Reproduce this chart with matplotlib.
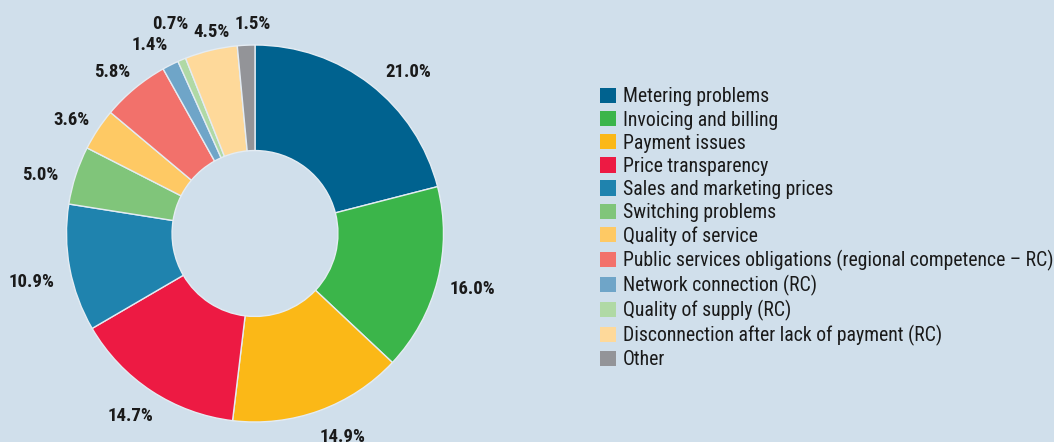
import matplotlib
matplotlib.use("Agg")
import matplotlib.pyplot as plt
from matplotlib.patches import Patch
from matplotlib import font_manager as fm

categories = [
    "Metering problems",
    "Invoicing and billing",
    "Payment issues",
    "Price transparency",
    "Sales and marketing prices",
    "Switching problems",
    "Quality of service",
    "Public services obligations (regional competence \u2013 RC)",
    "Network connection (RC)",
    "Quality of supply (RC)",
    "Disconnection after lack of payment (RC)",
    "Other",
]
values = [21.0, 16.0, 14.9, 14.7, 10.9, 5.0, 3.6, 5.8, 1.4, 0.7, 4.5, 1.5]
colors = ["#00628f", "#3bb54a", "#fbb817", "#ed1a43", "#1f83ae", "#80c57a",
          "#fec964", "#f2716b", "#6fa5c8", "#b0d9a5", "#fed99a", "#939498"]
label_pos = [(0.812, 0.857), (1.151, -0.294), (0.467, -1.080), (-0.658, -0.968),
             (-1.183, -0.257), (-1.141, 0.310), (-0.971, 0.602), (-0.759, 0.857),
             (-0.557, 1.0), (-0.451, 1.111), (-0.228, 1.069), (-0.011, 1.111)]

BG = "#d0dfeb"
TXT = "#1a1a1a"
W, H = 1054, 442
FAMILY = ["Roboto Condensed", "PT Sans Narrow", "DejaVu Sans"]
fig = plt.figure(figsize=(W / 100, H / 100), dpi=100, facecolor=BG)
renderer = fig.canvas.get_renderer()


def text_size(s, fp):
    t = fig.text(0, 0, s, fontproperties=fp)
    bb = t.get_window_extent(renderer)
    t.remove()
    return bb.width, bb.height


def fit_font(s, target_w, **kw):
    fp = fm.FontProperties(family=FAMILY, stretch="condensed", size=10, **kw)
    w, _ = text_size(s, fp)
    fp.set_size(10 * target_w / w)
    return fp


R = 188.5
cx, cy = 255, H - 233.5
s = 1.4
half = R * s
ax = fig.add_axes([(cx - half) / W, (cy - half) / H, 2 * half / W, 2 * half / H])
ax.patch.set_alpha(0)
ax.pie(values, colors=colors, startangle=90, counterclock=False, radius=1,
       wedgeprops=dict(width=0.56, edgecolor="#e4ecf3", linewidth=1.0))
ax.set_xlim(-s, s)
ax.set_ylim(-s, s)
ax.set_aspect("equal")
ax.axis("off")

lab_fp = fit_font("21.0%", 46, weight="bold")
for v, (x, y) in zip(values, label_pos):
    ax.text(x, y, f"{v:.1f}%", ha="center", va="center", fontproperties=lab_fp,
            color=TXT, clip_on=False)

leg_fp = fit_font(categories[7], 429)
fs_px = leg_fp.get_size() * 100 / 72
_, h_text = text_size(categories[0], leg_fp)
row_pitch = 23.1
sq = 16
row_h = max(h_text, sq)
handles = [Patch(facecolor=c, edgecolor="none") for c in colors]
top = 97 - row_h / 2
leg = fig.legend(handles, categories, loc="upper left",
                 bbox_to_anchor=(600 / W, (H - top) / H), frameon=False,
                 prop=leg_fp,
                 handlelength=sq / fs_px, handleheight=sq / fs_px,
                 handletextpad=7 / fs_px,
                 labelspacing=(row_pitch - row_h) / fs_px, borderpad=0, borderaxespad=0)
for t in leg.get_texts():
    t.set_color(TXT)

fig.savefig("out.png", dpi=100, facecolor=BG)
